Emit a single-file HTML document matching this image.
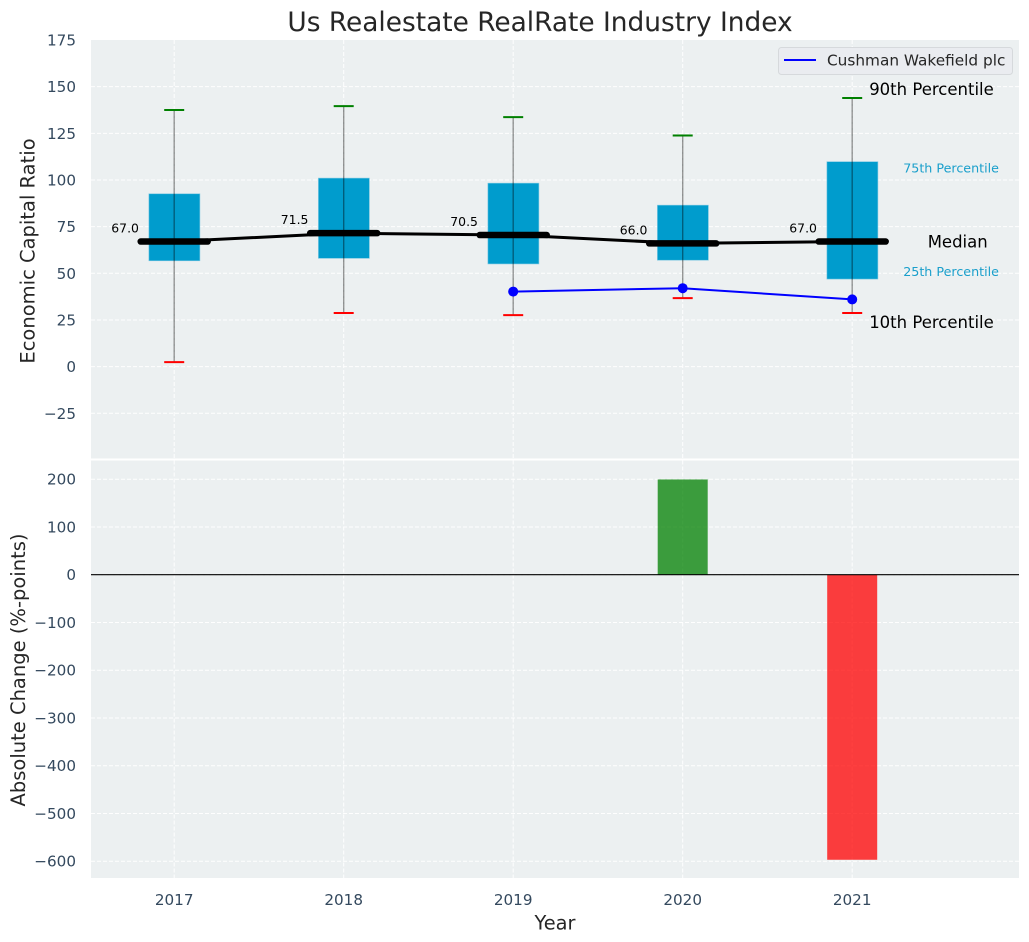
<!DOCTYPE html>
<html>
<head>
<meta charset="utf-8">
<title>Us Realestate RealRate Industry Index</title>
<style>
html,body{margin:0;padding:0;background:#fff;}
svg{display:block;font-family:"DejaVu Sans","Liberation Sans",sans-serif;}
</style>
</head>
<body>
<svg id="chart" xmlns="http://www.w3.org/2000/svg" width="1029" height="942" viewBox="0 0 1029 942"></svg>
<script>
const years = [2017, 2018, 2019, 2020, 2021];
const p90 = [137.5, 139.6, 133.7, 123.8, 143.9];
const p75 = [92.6, 101, 98.3, 86.5, 109.8];
const medians = [67, 71.5, 70.5, 66, 67];
const p25 = [56.7, 58, 55, 57, 46.9];
const p10 = [2.4, 28.7, 27.6, 36.7, 28.7];
const companyYears = [2019, 2020, 2021];
const companyValues = [40.2, 42, 36];
const changeYears = [2020, 2021];
const changeValues = [199.5, -597];
const topTicks = [175, 150, 125, 100, 75, 50, 25, 0, -25];
const bottomTicks = [200, 100, 0, -100, -200, -300, -400, -500, -600];

const svg = document.getElementById('chart');
const NS = 'http://www.w3.org/2000/svg';
const plotL = 91, plotR = 1019;
const topT = 40, topB = 458.5, botT = 460.5, botB = 878;
const x = yr => 174.2 + (yr - 2017) * 169.5;
const yTop = v => 366.6 - v * 1.8663;
const yBot = v => 574.7 - v * 0.4775;
const boxW = 51, barW = 50, capW = 20;
const fmtTick = v => (v < 0 ? '\u2212' + Math.abs(v) : String(v));

function mk(tag, attrs, parent) {
  const el = document.createElementNS(NS, tag);
  for (const k in attrs) el.setAttribute(k, attrs[k]);
  (parent || svg).appendChild(el);
  return el;
}
function label(str, attrs) {
  const el = mk('text', attrs);
  el.textContent = str;
  return el;
}
function tagged(el, name) {
  
  
  return el;
}
const gridAttrs = {stroke: '#ffffff', 'stroke-width': 1, 'stroke-dasharray': '4 2', opacity: 0.95};

/* backgrounds */
tagged(mk('rect', {x: plotL, y: topT, width: plotR - plotL, height: topB - topT, fill: '#ecf0f1'}), 'top-plot-background');
tagged(mk('rect', {x: plotL, y: botT, width: plotR - plotL, height: botB - botT, fill: '#ecf0f1'}), 'bottom-plot-background');

/* grid */
topTicks.forEach(t => {
  if (t !== 175) tagged(mk('line', Object.assign({x1: plotL, x2: plotR, y1: yTop(t), y2: yTop(t)}, gridAttrs)), 'top-grid-line-y');
  tagged(label(fmtTick(t), {x: 76, y: yTop(t) + 5.5, 'text-anchor': 'end', 'font-size': 15.2, fill: '#34495e'}), 'top-y-tick-label');
});
bottomTicks.forEach(t => {
  tagged(mk('line', Object.assign({x1: plotL, x2: plotR, y1: yBot(t), y2: yBot(t)}, gridAttrs)), 'bottom-grid-line-y');
  tagged(label(fmtTick(t), {x: 76, y: yBot(t) + 5.5, 'text-anchor': 'end', 'font-size': 15.2, fill: '#34495e'}), 'bottom-y-tick-label');
});
years.forEach(yr => {
  tagged(mk('line', Object.assign({x1: x(yr), x2: x(yr), y1: topT, y2: topB}, gridAttrs)), 'top-grid-line-x');
  tagged(mk('line', Object.assign({x1: x(yr), x2: x(yr), y1: botT, y2: botB}, gridAttrs)), 'bottom-grid-line-x');
  tagged(label(String(yr), {x: x(yr), y: 905, 'text-anchor': 'middle', 'font-size': 15.2, fill: '#34495e'}), 'x-tick-label');
});

/* boxes */
years.forEach((yr, i) => {
  tagged(mk('rect', {x: x(yr) - boxW / 2 + 0.2, y: yTop(p75[i]), width: boxW, height: yTop(p25[i]) - yTop(p75[i]), fill: '#009ccd', stroke: '#7cc8e2', 'stroke-width': 0.6}), 'box-' + yr);
});

/* median connecting line */
tagged(mk('polyline', {points: years.map((yr, i) => x(yr) + ',' + yTop(medians[i])).join(' '), fill: 'none', stroke: '#000', 'stroke-width': 3}), 'median-line');

/* whiskers, caps, median bars, value labels */
years.forEach((yr, i) => {
  tagged(mk('line', {x1: x(yr), x2: x(yr), y1: yTop(p90[i]), y2: yTop(p10[i]), stroke: '#000', 'stroke-opacity': 0.4, 'stroke-width': 1.4}), 'whisker-' + yr);
  tagged(mk('line', {x1: x(yr) - capW / 2, x2: x(yr) + capW / 2, y1: yTop(p90[i]), y2: yTop(p90[i]), stroke: '#008000', 'stroke-width': 2}), 'cap-90th-' + yr);
  tagged(mk('line', {x1: x(yr) - capW / 2, x2: x(yr) + capW / 2, y1: yTop(p10[i]), y2: yTop(p10[i]), stroke: '#ff0000', 'stroke-width': 2}), 'cap-10th-' + yr);
  tagged(mk('line', {x1: x(yr) - 33.5, x2: x(yr) + 33.5, y1: yTop(medians[i]), y2: yTop(medians[i]), stroke: '#000', 'stroke-width': 6.5, 'stroke-linecap': 'round'}), 'median-bar-' + yr);
  tagged(label(medians[i].toFixed(1), {x: x(yr) - 35.3, y: yTop(medians[i]) - 9, 'text-anchor': 'end', 'font-size': 12.4, fill: '#000'}), 'median-value-' + yr);
});

/* company series */
tagged(mk('polyline', {points: companyYears.map((yr, i) => x(yr) + ',' + yTop(companyValues[i])).join(' '), fill: 'none', stroke: '#0000ff', 'stroke-width': 2}), 'company-line');
companyYears.forEach((yr, i) => {
  tagged(mk('circle', {cx: x(yr), cy: yTop(companyValues[i]), r: 5, fill: '#0000ff'}), 'company-point-' + yr);
});

/* percentile annotations, anchored to the last year's marks */
const last = years.length - 1;
const lastX = x(years[last]);
tagged(label('90th Percentile', {x: lastX + 17, y: yTop(p90[last]) - 3, 'font-size': 16.5, fill: '#000'}), 'annotation-90th-percentile');
tagged(label('75th Percentile', {x: lastX + 51, y: yTop(p75[last]) + 11, 'font-size': 12.7, fill: '#1a9fcb'}), 'annotation-75th-percentile');
tagged(label('Median', {x: lastX + 75.5, y: yTop(medians[last]) + 6, 'font-size': 16.5, fill: '#000'}), 'annotation-median');
tagged(label('25th Percentile', {x: lastX + 51, y: yTop(p25[last]) - 3, 'font-size': 12.7, fill: '#1a9fcb'}), 'annotation-25th-percentile');
tagged(label('10th Percentile', {x: lastX + 17, y: yTop(p10[last]) + 15, 'font-size': 16.5, fill: '#000'}), 'annotation-10th-percentile');

/* change bars */
changeYears.forEach((yr, i) => {
  const v = changeValues[i];
  const top = Math.min(yBot(0), yBot(v));
  const h = Math.abs(yBot(v) - yBot(0));
  tagged(mk('rect', {x: x(yr) - barW / 2, y: top, width: barW, height: h, fill: v >= 0 ? '#008000' : '#ff0000', 'fill-opacity': 0.75}), 'change-bar-' + yr);
});
tagged(mk('line', {x1: plotL, x2: plotR, y1: yBot(0), y2: yBot(0), stroke: '#000', 'stroke-width': 1.2}), 'zero-line');

/* titles */
tagged(label('Us Realestate RealRate Industry Index', {x: 540, y: 31, 'text-anchor': 'middle', 'font-size': 26.4, fill: '#262626'}), 'chart-title');
tagged(label('Year', {x: 555, y: 929.5, 'text-anchor': 'middle', 'font-size': 19.4, fill: '#262626'}), 'x-axis-title');
tagged(label('Economic Capital Ratio', {transform: 'translate(34.5,251) rotate(-90)', 'text-anchor': 'middle', 'font-size': 19.5, fill: '#262626'}), 'top-y-axis-title');
tagged(label('Absolute Change (%-points)', {transform: 'translate(25,670) rotate(-90)', 'text-anchor': 'middle', 'font-size': 19.5, fill: '#262626'}), 'bottom-y-axis-title');

/* legend */
const legend = mk('g', {});


const legendBox = mk('rect', {x: 778.5, y: 47.5, width: 234, height: 27, rx: 3, fill: '#eaecf0', stroke: '#d6d9dc', 'stroke-width': 1}, legend);


const legendLine = mk('line', {x1: 784, x2: 816, y1: 60, y2: 60, stroke: '#0000ff', 'stroke-width': 2}, legend);


const legendText = mk('text', {x: 827, y: 65.5, 'font-size': 15.3, fill: '#262626'}, legend);
legendText.textContent = 'Cushman Wakefield plc';


</script>
</body>
</html>
